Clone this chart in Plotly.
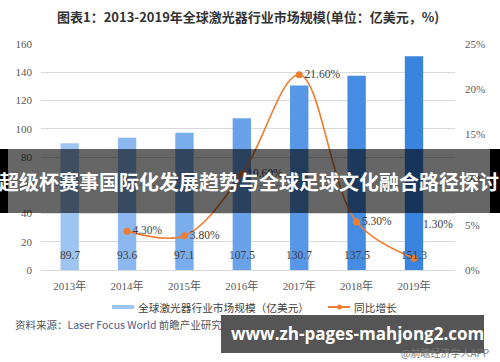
import plotly.graph_objects as go

# ---------------- data ----------------
years = ["2013年", "2014年", "2015年", "2016年", "2017年", "2018年", "2019年"]
market_size = [89.7, 93.6, 97.1, 107.5, 130.7, 137.5, 151.3]
growth_pct = [None, 4.30, 3.80, 10.60, 21.60, 5.30, 1.30]

title_text = "图表1：2013-2019年全球激光器行业市场规模(单位：亿美元，%)"
bar_name = "全球激光器行业市场规模（亿美元）"
line_name = "同比增长"
banner_text = "超级杯赛事国际化发展趋势与全球足球文化融合路径探讨"
url_text = "www.zh-pages-mahjong2.com"

# ---------------- geometry helpers ----------------
W, H = 500, 362
L, R, T, B = 41, 45, 44, 92
pw, ph = W - L - R, H - T - B


def px(x):
    return (x - L) / pw


def py(y):
    return (H - B - y) / ph


bar_colors = ["#9EC4F2", "#8CB8EF", "#7AADEC", "#69A2E9", "#5797E6", "#468CE3", "#3A84E0"]
orange = "#EE7D31"
serif = "Liberation Serif, Times New Roman, Noto Sans CJK SC, serif"
sans = "Noto Sans CJK SC, Noto Sans, sans-serif"

fig = go.Figure()

fig.add_trace(go.Bar(
    x=years, y=market_size, name=bar_name,
    marker=dict(color=bar_colors, line=dict(width=0)),
    showlegend=False,
))

line_text = ["" if (v is None or i == len(years) - 1) else f"{v:.2f}%" for i, v in enumerate(growth_pct)]
fig.add_trace(go.Scatter(
    x=years, y=[None if v is None else v / 100 for v in growth_pct],
    yaxis="y2", name=line_name,
    mode="lines+markers+text",
    line=dict(color=orange, width=1.6, shape="spline", smoothing=1.0),
    marker=dict(color=orange, size=7),
    text=line_text, textposition="middle right",
    textfont=dict(family=serif, size=11.5, color="#404040"),
    showlegend=False, cliponaxis=False,
))

annotations = []
# bar value labels
for yr, v in zip(years, market_size):
    annotations.append(dict(
        x=yr, y=0, xref="x", yref="y", text=f"{v}", showarrow=False,
        yanchor="bottom", yshift=7,
        font=dict(family=serif, size=11.5, color="#404040"),
    ))
# last growth label (placed above-right in the reference)
annotations.append(dict(
    x=years[-1], y=growth_pct[-1] / 100, xref="x", yref="y2",
    text=f"{growth_pct[-1]:.2f}%", showarrow=False,
    xanchor="left", xshift=7, yshift=34,
    font=dict(family=serif, size=11.5, color="#404040"),
))

# title
annotations.append(dict(
    x=0.5, y=py(16), xref="paper", yref="paper", text=f"<b>{title_text}</b>",
    showarrow=False, xanchor="center", yanchor="middle",
    font=dict(family=sans, size=13, color="#333333"),
))

# legend (manual)
annotations.append(dict(
    x=px(136), y=py(307), xref="paper", yref="paper", text=bar_name,
    showarrow=False, xanchor="left", yanchor="middle",
    font=dict(family=sans, size=10.7, color="#404040"),
))
annotations.append(dict(
    x=px(352), y=py(307), xref="paper", yref="paper", text=line_name,
    showarrow=False, xanchor="left", yanchor="middle",
    font=dict(family=sans, size=10.7, color="#404040"),
))

# source line
annotations.append(dict(
    x=px(13), y=py(324), xref="paper", yref="paper",
    text="资料来源：<span style='color:#4A5B8C'>Laser Focus World</span> 前瞻产业研究院整理",
    showarrow=False, xanchor="left", yanchor="middle",
    font=dict(family=sans, size=10.5, color="#555555"),
))

# middle banner text
annotations.append(dict(
    x=px(249), y=py(181), xref="paper", yref="paper",
    text=f"<b>{banner_text}</b>", showarrow=False,
    xanchor="center", yanchor="middle",
    font=dict(family=sans, size=20, color="#FFFFFF"),
))
# bottom banner text
annotations.append(dict(
    x=px(357), y=py(333), xref="paper", yref="paper",
    text=f"<b>{url_text}</b>", showarrow=False,
    xanchor="center", yanchor="middle",
    font=dict(family="Open Sans, Noto Sans, sans-serif", size=17, color="#FFFFFF"),
))
annotations.append(dict(
    x=px(491), y=py(352.5), xref="paper", yref="paper",
    text="@前瞻经济学人APP", showarrow=False,
    xanchor="right", yanchor="middle",
    font=dict(family=sans, size=10, color="#777777"),
))

shapes = [
    # legend symbols
    dict(type="rect", xref="paper", yref="paper",
         x0=px(112), x1=px(134), y0=py(305), y1=py(309),
         fillcolor="#9EC4F2", line=dict(width=0), layer="above"),
    dict(type="line", xref="paper", yref="paper",
         x0=px(328), x1=px(350), y0=py(307), y1=py(307),
         line=dict(color=orange, width=2), layer="above"),
    dict(type="circle", xref="paper", yref="paper",
         x0=px(337), x1=px(342), y0=py(304.5), y1=py(309.5),
         fillcolor=orange, line=dict(width=0), layer="above"),
    # middle overlay banner
    dict(type="rect", xref="paper", yref="paper",
         x0=px(0), x1=px(500), y0=py(213), y1=py(149),
         fillcolor="rgba(0,0,0,0.6)", line=dict(width=0), layer="above"),
    dict(type="rect", xref="paper", yref="paper",
         x0=px(0), x1=px(8), y0=py(213), y1=py(149),
         fillcolor="#000000", line=dict(width=0), layer="above"),
    dict(type="rect", xref="paper", yref="paper",
         x0=px(490), x1=px(500), y0=py(213), y1=py(149),
         fillcolor="#000000", line=dict(width=0), layer="above"),
    # bottom overlay banner
    dict(type="rect", xref="paper", yref="paper",
         x0=px(221), x1=px(484), y0=py(353), y1=py(315),
         fillcolor="rgba(70,70,70,0.92)", line=dict(width=0), layer="above"),
]

fig.update_layout(
    width=W, height=H,
    margin=dict(l=L, r=R, t=T, b=B, pad=0, autoexpand=False),
    paper_bgcolor="#FFFFFF", plot_bgcolor="#FFFFFF",
    bargap=0.68,
    showlegend=False,
    xaxis=dict(
        type="category", showgrid=False, zeroline=False, automargin=False,
        showline=True, linecolor="#D9D9D9", linewidth=1,
        ticks="", ticklabelstandoff=6,
        tickfont=dict(family=serif, size=11, color="#595959"),
    ),
    yaxis=dict(
        range=[0, 160], dtick=20, showgrid=True, gridcolor="#D9D9D9", gridwidth=1,
        zeroline=False, showline=False, ticks="", ticklabelstandoff=8, automargin=False,
        tickfont=dict(family=serif, size=11, color="#595959"),
    ),
    yaxis2=dict(
        range=[0, 0.25], dtick=0.05, tickformat=".0%", overlaying="y", side="right",
        showgrid=False, zeroline=False, showline=False, ticks="", ticklabelstandoff=9,
        automargin=False,
        tickfont=dict(family=serif, size=11, color="#595959"),
    ),
    annotations=annotations,
    shapes=shapes,
)

fig.write_html(
    "out.html",
    config={"displayModeBar": False},
    post_script="document.body.style.margin='0';document.body.style.padding='0';"
                "document.body.style.overflow='hidden';",
)
